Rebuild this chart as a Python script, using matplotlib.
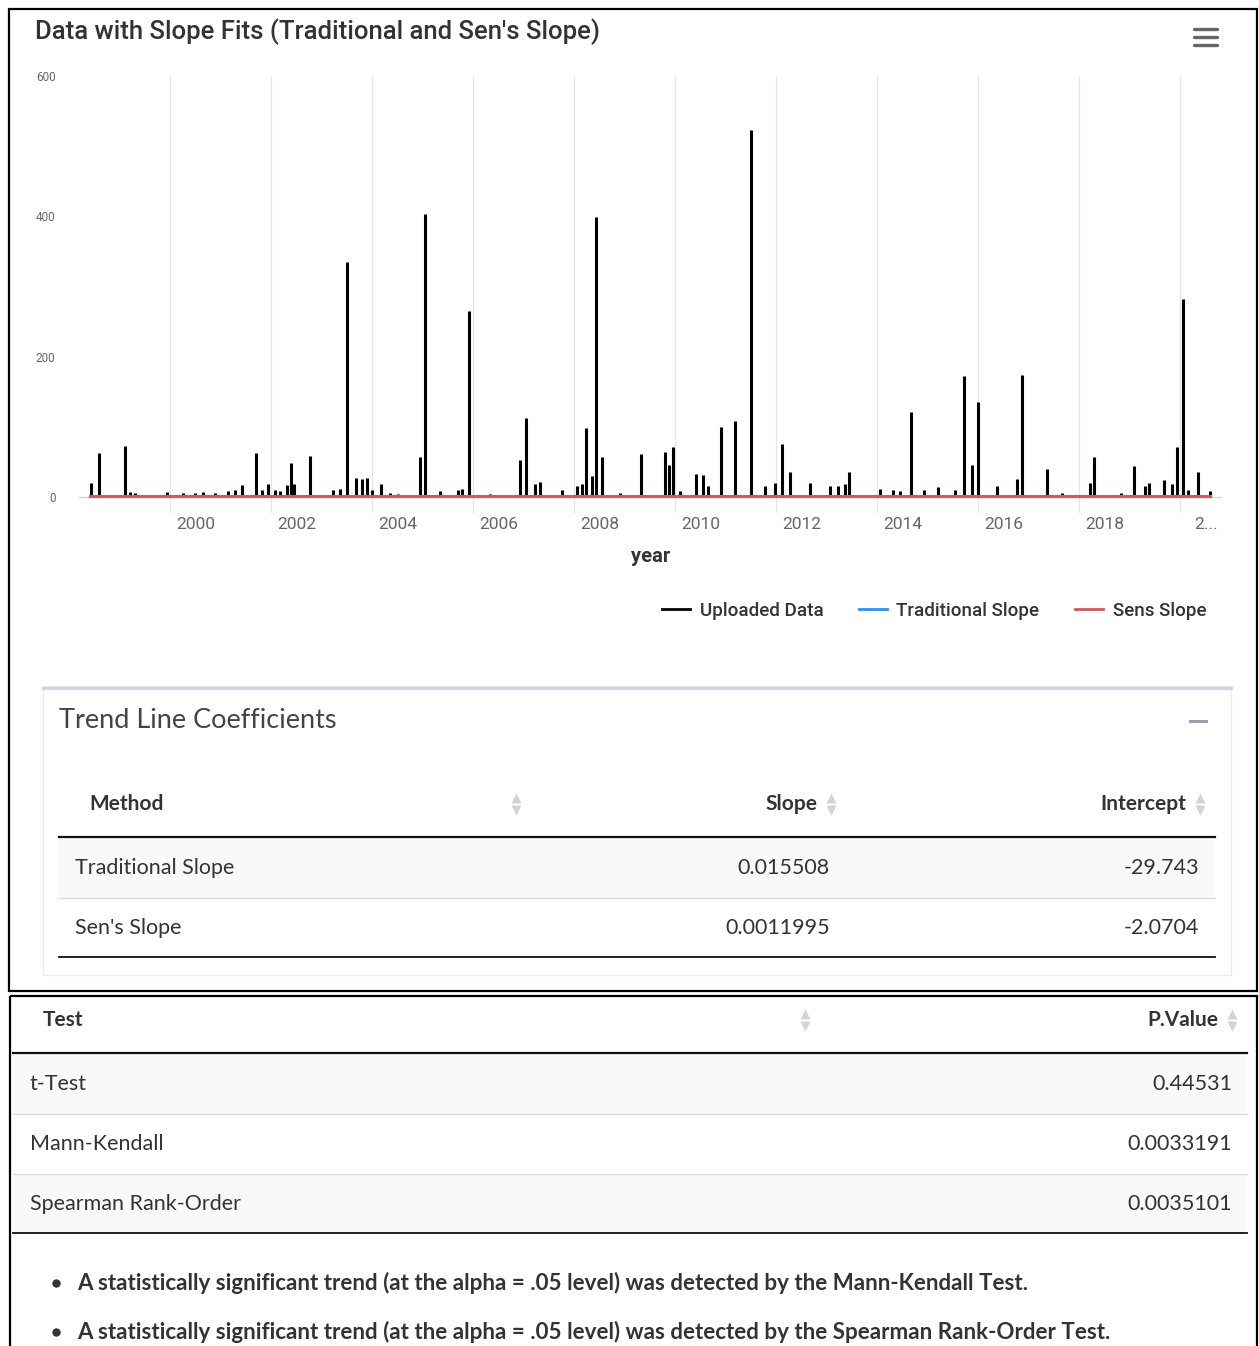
import matplotlib
matplotlib.use("Agg")
import matplotlib.pyplot as plt
from matplotlib.patches import Rectangle
from matplotlib.lines import Line2D
from matplotlib.transforms import ScaledTranslation

W, H = 1259, 1346

# ---- chart data ----
spike_years = [1998.44, 1998.59, 1999.11, 1999.21, 1999.31, 1999.94, 2000.26, 2000.50,
               2000.65, 2000.89, 2001.15, 2001.29, 2001.43, 2001.70, 2001.82, 2001.94,
               2002.08, 2002.18, 2002.32, 2002.40, 2002.46, 2002.77, 2003.23, 2003.37,
               2003.50, 2003.68, 2003.80, 2003.90, 2004.00, 2004.18, 2004.36, 2004.51,
               2004.95, 2005.05, 2005.35, 2005.70, 2005.78, 2005.92, 2006.34, 2006.93,
               2007.05, 2007.23, 2007.33, 2007.76, 2008.06, 2008.16, 2008.24, 2008.36,
               2008.44, 2008.55, 2008.91, 2009.33, 2009.80, 2009.88, 2009.96, 2010.10,
               2010.42, 2010.55, 2010.65, 2010.91, 2011.19, 2011.50, 2011.78, 2011.98,
               2012.12, 2012.28, 2012.67, 2013.07, 2013.23, 2013.37, 2013.45, 2014.06,
               2014.32, 2014.46, 2014.67, 2014.93, 2015.21, 2015.54, 2015.72, 2015.88,
               2016.00, 2016.38, 2016.77, 2016.87, 2017.37, 2017.66, 2018.22, 2018.30,
               2018.83, 2019.09, 2019.31, 2019.39, 2019.68, 2019.84, 2019.94, 2020.06,
               2020.16, 2020.36, 2020.59]
spike_values = [20, 63, 73, 7, 5, 7, 5, 6,
                7, 6, 8, 10, 17, 63, 10, 18,
                10, 8, 17, 48, 18, 58, 10, 12,
                335, 27, 25, 27, 10, 18, 5, 4,
                57, 403, 8, 10, 12, 265, 4, 53,
                113, 18, 22, 10, 15, 18, 98, 30,
                399, 57, 5, 61, 64, 45, 71, 8,
                33, 31, 15, 100, 108, 523, 15, 20,
                76, 35, 20, 15, 15, 18, 36, 12,
                10, 8, 121, 10, 14, 10, 172, 45,
                135, 15, 25, 174, 40, 5, 20, 57,
                5, 44, 15, 20, 24, 18, 71, 282,
                10, 36, 8]
data_range = [1998.42, 2020.62]
trad_fit = [1.5, 1.5]
sens_fit = [0.0, 0.0]

tick_years = [2000, 2002, 2004, 2006, 2008, 2010, 2012, 2014, 2016, 2018, 2020]
tick_labels = ["2000", "2002", "2004", "2006", "2008", "2010", "2012", "2014",
               "2016", "2018", "2..."]
y_ticks = [0, 200, 400, 600]

# ---- tables ----
methods = ["Traditional Slope", "Sen's Slope"]
slopes = [0.015508, 0.0011995]
intercepts = [-29.743, -2.0704]

tests = ["t-Test", "Mann-Kendall", "Spearman Rank-Order"]
p_values = [0.44531, 0.0033191, 0.0035101]

notes = [
    "A statistically significant trend (at the alpha = .05 level) was detected by the Mann-Kendall Test.",
    "A statistically significant trend (at the alpha = .05 level) was detected by the Spearman Rank-Order Test.",
]

CHART_FONT = ["Roboto", "DejaVu Sans"]
TABLE_FONT = ["Lato", "DejaVu Sans"]
TXT = "#333333"
BODY = 15.5
HEAD = 15

fig = plt.figure(figsize=(W / 100, H / 100), dpi=100)

# page layer in pixel coordinates
page = fig.add_axes([0, 0, 1, 1])
page.set_xlim(0, W)
page.set_ylim(H, 0)
page.axis("off")

# screenshot frames
page.add_patch(Rectangle((9, 9), 1248, 982, fill=False, edgecolor="black", lw=1.6))
page.add_patch(Rectangle((10, 996), 1247, 380, fill=False, edgecolor="black", lw=1.6))

# chart title + menu icon
page.text(35, 32, "Data with Slope Fits (Traditional and Sen's Slope)", fontsize=18.5,
          fontweight="medium", family=CHART_FONT, color=TXT, va="center", ha="left")
for yy in (29, 37, 45):
    page.plot([1194, 1217], [yy, yy], color="#666666", lw=2.4, solid_capstyle="round")

# ---- chart axes ----
left, right, top, bottom = 79, 1222, 76, 513
ax = fig.add_axes([left / W, 1 - bottom / H, (right - left) / W, (bottom - top) / H])
ax.patch.set_alpha(0)
px_per_year = 50.5
ax.set_xlim(2000 + (left - 170) / px_per_year, 2000 + (right - 170) / px_per_year)
ax.set_ylim(-(bottom - 497) * 600 / 421, 600)
for s in ax.spines.values():
    s.set_visible(False)

ax.set_xticks(tick_years)
ax.set_xticklabels(tick_labels, fontsize=12.5, color="#666666", family=CHART_FONT)
ax.set_yticks(y_ticks)
ax.set_yticklabels([str(v) for v in y_ticks], fontsize=8.5, color="#666666", family=CHART_FONT)
ax.tick_params(axis="x", length=0, pad=3)
ax.tick_params(axis="y", length=0, pad=17)
ax.grid(axis="x", color="#e6e6e6", lw=1)
ax.set_axisbelow(True)
shift = ScaledTranslation(0.26, 0, fig.dpi_scale_trans)
for lbl in ax.get_xticklabels():
    lbl.set_transform(lbl.get_transform() + shift)

ax.axhline(0, color="#ccd6eb", lw=1, zorder=1)
ax.vlines(spike_years, 0, spike_values, color="black", lw=2.2, zorder=3)
ax.plot(data_range, [0, 0], color="black", lw=1.5, zorder=3)
ax.plot(data_range, trad_fit, color="#2f8ff0", lw=1.5, zorder=4)
ax.plot(data_range, sens_fit, color="#d05a5a", lw=1.5, zorder=5)

page.text(651, 556, "year", fontsize=14.5, fontweight="bold", family=CHART_FONT,
          color=TXT, ha="center", va="center")

handles = [Line2D([], [], color="black", lw=2),
           Line2D([], [], color="#2f8ff0", lw=2),
           Line2D([], [], color="#d05a5a", lw=2)]
fig.legend(handles, ["Uploaded Data", "Traditional Slope", "Sens Slope"],
           loc="center right", bbox_to_anchor=(1223 / W, 1 - 611 / H), ncol=3,
           frameon=False, handlelength=1.5, handletextpad=0.5, columnspacing=1.9,
           prop={"family": CHART_FONT, "size": 13.5, "weight": "medium"}, labelcolor=TXT)

# ---- Trend Line Coefficients card ----
page.add_patch(Rectangle((43, 686), 1188, 289, facecolor="white", edgecolor="#ececec", lw=1))
page.plot([43, 1231], [688, 688], color="#d2d6de", lw=2.4)
page.text(59, 721, "Trend Line Coefficients", fontsize=19.5, family=TABLE_FONT,
          color="#444444", va="center", ha="left")
page.plot([1190, 1206], [721, 721], color="#97a0b3", lw=2.2)


def sort_arrows(x, y):
    page.plot(x, y - 6, marker="^", ms=6.5, color="#d3d3d3", mec="none")
    page.plot(x, y + 6, marker="v", ms=6.5, color="#d3d3d3", mec="none")


hy = 804
page.text(89, hy, "Method", fontsize=HEAD, fontweight="bold", family=TABLE_FONT, color=TXT, va="center")
sort_arrows(516, hy)
page.text(817, hy, "Slope", fontsize=HEAD, fontweight="bold", family=TABLE_FONT, color=TXT,
          va="center", ha="right")
sort_arrows(831, hy)
page.text(1186, hy, "Intercept", fontsize=HEAD, fontweight="bold", family=TABLE_FONT, color=TXT,
          va="center", ha="right")
sort_arrows(1200, hy)

row_top, row_h = 838, 60
for i, (m, s, b) in enumerate(zip(methods, slopes, intercepts)):
    y0 = row_top + i * row_h
    if i % 2 == 0:
        page.add_patch(Rectangle((59, y0), 1156, row_h, facecolor="#f9f9f9", edgecolor="none"))
    if i > 0:
        page.plot([59, 1215], [y0, y0], color="#dddddd", lw=1)
    yc = y0 + row_h / 2
    page.text(75, yc, m, fontsize=BODY, family=TABLE_FONT, color=TXT, va="center")
    page.text(830, yc, f"{s:g}", fontsize=BODY, family=TABLE_FONT, color=TXT, va="center", ha="right")
    page.text(1199, yc, f"{b:g}", fontsize=BODY, family=TABLE_FONT, color=TXT, va="center", ha="right")
page.plot([59, 1215], [837, 837], color="#111111", lw=1.6)
page.plot([59, 1215], [row_top + len(methods) * row_h - 1] * 2, color="#111111", lw=1.3)

# ---- test table ----
hy2 = 1020
page.text(43, hy2, "Test", fontsize=HEAD, fontweight="bold", family=TABLE_FONT, color=TXT, va="center")
sort_arrows(805, hy2)
page.text(1218, hy2, "P.Value", fontsize=HEAD, fontweight="bold", family=TABLE_FONT, color=TXT,
          va="center", ha="right")
sort_arrows(1232, hy2)

row_top2 = 1054
for i, (t, p) in enumerate(zip(tests, p_values)):
    y0 = row_top2 + i * row_h
    if i % 2 == 0:
        page.add_patch(Rectangle((13, y0), 1234, row_h, facecolor="#f9f9f9", edgecolor="none"))
    if i > 0:
        page.plot([13, 1247], [y0, y0], color="#dddddd", lw=1)
    yc = y0 + row_h / 2
    page.text(30, yc, t, fontsize=BODY, family=TABLE_FONT, color=TXT, va="center")
    page.text(1232, yc, f"{p:g}", fontsize=BODY, family=TABLE_FONT, color=TXT, va="center", ha="right")
page.plot([13, 1247], [1053, 1053], color="#111111", lw=1.6)
page.plot([13, 1247], [row_top2 + len(tests) * row_h - 1] * 2, color="#111111", lw=1.3)

for i, note in enumerate(notes):
    yc = 1283 + i * 49
    page.plot(56, yc, marker="o", ms=5, color=TXT)
    page.text(77, yc, note, fontsize=16.1, fontweight="bold", family=TABLE_FONT, color=TXT, va="center")

fig.savefig("out.png", dpi=100)
